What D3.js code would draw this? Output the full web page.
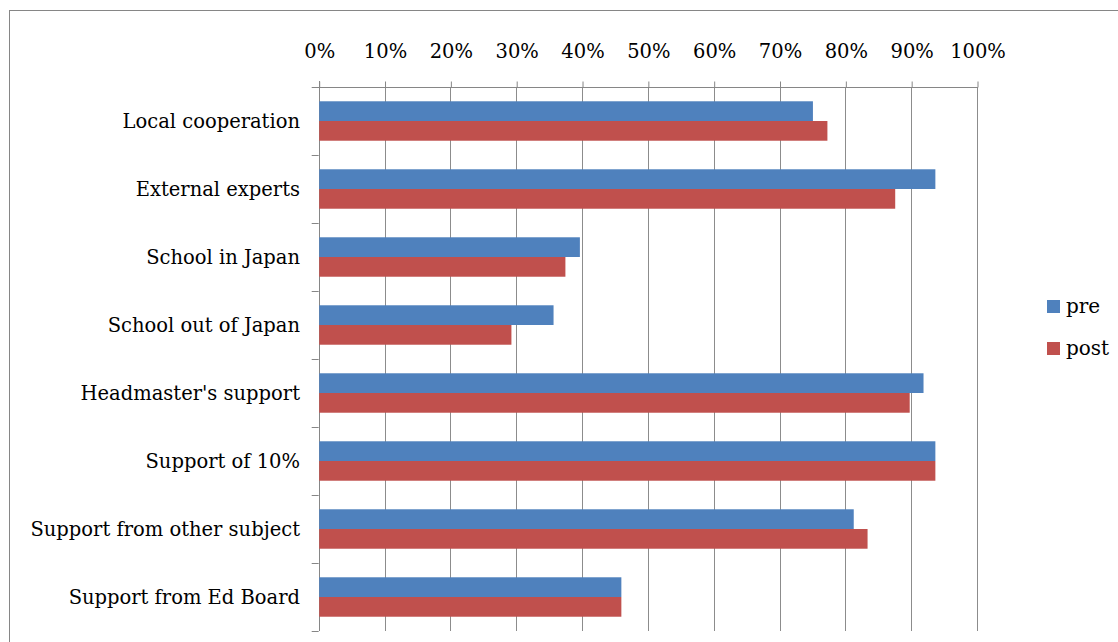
<!DOCTYPE html>
<html>
<head>
<meta charset="utf-8">
<script src="https://cdn.jsdelivr.net/npm/d3@7/dist/d3.min.js"></script>
<style>
  html, body { margin: 0; padding: 0; background: #fff; }
  svg { display: block; }
  text { font-family: "DejaVu Serif", "Liberation Serif", serif; fill: #000; }
</style>
</head>
<body>
<svg id="chart" width="1118" height="642"></svg>
<script>
// Survey items, top to bottom
const categories = [
  "Local cooperation",
  "External experts",
  "School in Japan",
  "School out of Japan",
  "Headmaster's support",
  "Support of 10%",
  "Support from other subject",
  "Support from Ed Board"
];
// Share of respondents (%) before and after
const preValues  = [75.0, 93.6, 39.6, 35.6, 91.8, 93.6, 81.2, 45.9];
const postValues = [77.2, 87.5, 37.4, 29.2, 89.7, 93.6, 83.3, 45.9];
const seriesNames = ["pre", "post"];
const seriesColors = ["#4F81BD", "#C0504D"];
const tickValues = [0, 10, 20, 30, 40, 50, 60, 70, 80, 90, 100];

const svg = d3.select("#chart");
const W = 1118, H = 642;
const plot = { left: 318.7, right: 977, top: 87, bottom: 631 };

// outer chart frame
svg.append("rect")
  .attr("x", 9.5).attr("y", 10.5)
  .attr("width", W + 20).attr("height", H + 20)
  .attr("fill", "none").attr("stroke", "#868686").attr("stroke-width", 1);

const x = d3.scaleLinear().domain([0, 100]).range([plot.left, plot.right]);
const y = d3.scaleBand().domain(categories).range([plot.top, plot.bottom]).paddingInner(0.42).paddingOuter(0.21);
const ySeries = d3.scaleBand().domain(seriesNames).range([0, y.bandwidth()]);

// vertical gridlines
svg.append("g").selectAll("line")
  .data(tickValues.slice(1))
  .join("line")
  .attr("x1", d => Math.round(x(d)) + 0.5).attr("x2", d => Math.round(x(d)) + 0.5)
  .attr("y1", plot.top).attr("y2", plot.bottom)
  .attr("stroke", "#8c8c8c").attr("stroke-width", 1);

// top value axis
const xAxis = d3.axisTop(x)
  .tickValues(tickValues)
  .tickFormat(d => d + "%")
  .tickSizeInner(6).tickSizeOuter(0).tickPadding(24);
const gx = svg.append("g")
  .attr("transform", `translate(0.5,${plot.top + 0.5})`)
  .call(xAxis);
gx.select(".domain").attr("stroke", "#868686").attr("d", `M${plot.left - 7},0H${plot.right}`);
gx.selectAll(".tick line").attr("stroke", "#868686");
gx.selectAll(".tick text").attr("font-size", 19.5).attr("font-family", "DejaVu Serif").attr("fill", "#000");

// left category axis line and separators between groups
const bandStep = (plot.bottom - plot.top) / categories.length;
const gy = svg.append("g");
gy.append("line")
  .attr("x1", Math.round(plot.left) + 0.5).attr("x2", Math.round(plot.left) + 0.5)
  .attr("y1", plot.top - 6).attr("y2", plot.bottom)
  .attr("stroke", "#868686");
gy.selectAll("line.sep")
  .data(d3.range(categories.length + 1))
  .join("line")
  .attr("class", "sep")
  .attr("x1", plot.left - 7).attr("x2", plot.left)
  .attr("y1", i => Math.round(plot.top + i * bandStep) + 0.5)
  .attr("y2", i => Math.round(plot.top + i * bandStep) + 0.5)
  .attr("stroke", "#868686");
gy.selectAll("text")
  .data(categories)
  .join("text")
  .attr("x", 300)
  .attr("y", d => y(d) + y.bandwidth() / 2)
  .attr("dy", "0.36em")
  .attr("text-anchor", "end")
  .attr("font-size", 19.5)
  .text(d => d);

// bars
const rows = categories.map((c, i) => ({ cat: c, values: [preValues[i], postValues[i]] }));
const groups = svg.append("g").selectAll("g")
  .data(rows)
  .join("g")
  .attr("transform", d => `translate(0,${y(d.cat)})`);
groups.selectAll("rect")
  .data(d => d.values.map((v, k) => ({ series: seriesNames[k], value: v, color: seriesColors[k] })))
  .join("rect")
  .attr("x", x(0) + 0.5)
  .attr("y", d => ySeries(d.series))
  .attr("width", d => x(d.value) - x(0))
  .attr("height", ySeries.bandwidth())
  .attr("fill", d => d.color);

// legend
const legend = svg.append("g").attr("transform", "translate(1047,300)");
const items = legend.selectAll("g")
  .data(seriesNames)
  .join("g")
  .attr("transform", (d, i) => `translate(0,${i * 42})`);
items.append("rect")
  .attr("width", 13).attr("height", 13)
  .attr("fill", (d, i) => seriesColors[i]);
items.append("text")
  .attr("x", 19).attr("y", 13)
  .attr("font-size", 20)
  .text(d => d);
</script>
</body>
</html>
